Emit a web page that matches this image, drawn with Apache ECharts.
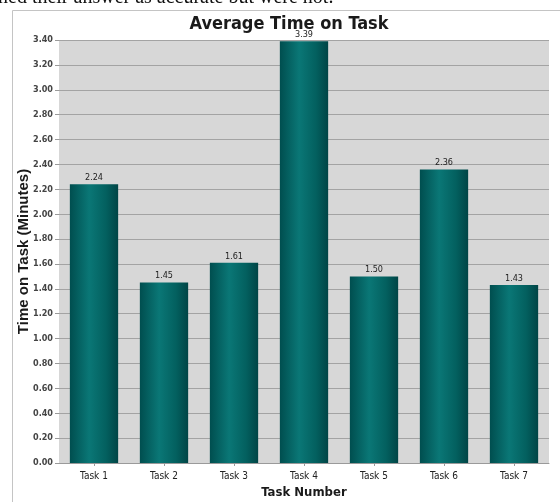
<!DOCTYPE html>
<html>
<head>
<meta charset="utf-8">
<script src="https://cdn.jsdelivr.net/npm/echarts@6/dist/echarts.min.js"></script>
<style>
  html, body { margin: 0; padding: 0; background: #fff; }
  #chart { width: 560px; height: 502px; }
</style>
</head>
<body>
<div id="chart"></div>
<script>
  // data
  const tasks = ['Task 1', 'Task 2', 'Task 3', 'Task 4', 'Task 5', 'Task 6', 'Task 7']
  const minutes = [2.24, 1.45, 1.61, 3.39, 1.50, 2.36, 1.43]

  const narrow = '"DejaVu Sans Condensed", "Liberation Sans Narrow", Arial, sans-serif'

  const chart = echarts.init(document.getElementById('chart'), null, { renderer: 'canvas' })

  const barColor = new echarts.graphic.LinearGradient(0, 0, 1, 0, [
    { offset: 0, color: '#004e4f' },
    { offset: 0.4, color: '#0a7776' },
    { offset: 0.75, color: '#03605f' },
    { offset: 1, color: '#004546' }
  ])

  const option = {
    animation: false,
    backgroundColor: '#ffffff',
    graphic: [
      {
        type: 'text',
        left: -2,
        top: -12,
        style: {
          text: 'ned their answer as accurate but were not.',
          font: '20px "Liberation Serif", "Times New Roman", serif',
          fill: '#111'
        }
      },
      {
        type: 'rect',
        shape: { x: 12.5, y: 10.5, width: 600, height: 600 },
        style: { fill: 'none', stroke: '#c4c4c4', lineWidth: 1 },
        z: -1
      }
    ],
    title: {
      text: 'Average Time on Task',
      left: 284,
      top: 10,
      textAlign: 'center',
      textStyle: { fontFamily: narrow, fontSize: 18, fontWeight: 'bold', color: '#1a1a1a' }
    },
    grid: {
      left: 59, right: 11, top: 40, bottom: 39,
      containLabel: false,
      outerBoundsMode: 'none',
      show: true, backgroundColor: '#d7d7d7', borderWidth: 0
    },
    xAxis: {
      type: 'category',
      data: tasks,
      name: 'Task Number',
      nameLocation: 'middle',
      nameGap: 23,
      nameTextStyle: { fontFamily: narrow, fontSize: 13, fontWeight: 'bold', color: '#1a1a1a' },
      axisLine: { show: true, lineStyle: { color: '#9a9a9a' } },
      axisTick: { show: true, alignWithLabel: true, length: 3, lineStyle: { color: '#9a9a9a' } },
      axisLabel: { fontFamily: narrow, fontSize: 10, color: '#222', margin: 8 }
    },
    yAxis: {
      type: 'value',
      min: 0,
      max: 3.4,
      interval: 0.2,
      name: 'Time on Task (Minutes)',
      nameLocation: 'middle',
      nameGap: 28,
      nameMoveOverlap: false,
      nameTextStyle: { fontFamily: 'Arial, "Liberation Sans", sans-serif', fontSize: 15, fontWeight: 'bold', color: '#1a1a1a' },
      axisLine: { show: false },
      axisTick: { show: true, length: 4, lineStyle: { color: '#9a9a9a' } },
      axisLabel: {
        fontFamily: narrow, fontSize: 9, fontWeight: 'bold', color: '#444', margin: 6,
        formatter: v => v.toFixed(2)
      },
      splitLine: { show: true, lineStyle: { color: '#a3a3a3', width: 1 } }
    },
    series: [
      {
        type: 'bar',
        data: minutes,
        barWidth: '69%',
        itemStyle: { color: barColor },
        label: {
          show: true,
          position: 'top',
          distance: 2,
          fontFamily: narrow,
          fontSize: 9,
          color: '#222',
          formatter: p => p.value.toFixed(2)
        }
      }
    ]
  }

  chart.setOption(option)
</script>
</body>
</html>
